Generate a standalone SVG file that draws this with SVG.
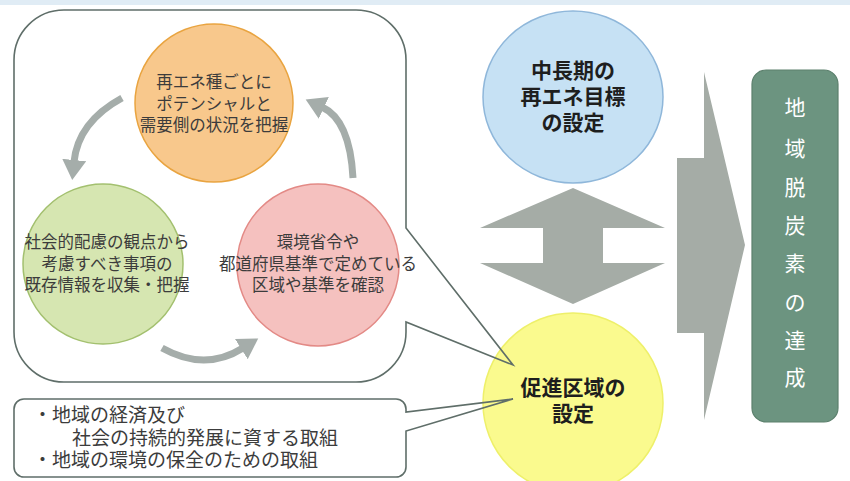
<svg xmlns="http://www.w3.org/2000/svg" width="850" height="481" viewBox="0 0 850 481">
<style>
.t{font-family:"Noto Sans CJK JP","Noto Sans",sans-serif;fill:#3c3c3c;text-anchor:middle;font-size:16.5px}
.b{font-family:"Noto Sans CJK JP","Noto Sans",sans-serif;fill:#1e1e1e;text-anchor:middle;font-size:21px;font-weight:bold}
.l{font-family:"Noto Sans CJK JP","Noto Sans",sans-serif;fill:#3c3c3c;font-size:19px}
.v{font-family:"Noto Sans CJK JP","Noto Sans",sans-serif;fill:#ffffff;text-anchor:middle;font-size:21px}
.call{fill:none;stroke:#5f6e69;stroke-width:1.6;stroke-linejoin:miter}
.cur{fill:none;stroke:#a5adaa;stroke-width:7;marker-end:url(#ah)}
.big{fill:#a5aca6}
</style>
<defs>
<marker id="ah" markerUnits="userSpaceOnUse" markerWidth="24" markerHeight="26" refX="2" refY="12" orient="auto">
<path d="M0,0 L20,12 L0,24 z" fill="#a5adaa"/>
</marker>
</defs>
<rect x="0" y="0" width="850" height="5" fill="#e0ecf5"/>
<g id="node-orange">
<circle cx="214" cy="103" r="79" fill="#f8c88c" stroke="#e9a440" stroke-width="1.5"/>
<text class="t" x="214" y="88">再エネ種ごとに</text>
<text class="t" x="214" y="109.5">ポテンシャルと</text>
<text class="t" x="214" y="131">需要側の状況を把握</text>
</g>
<g id="node-green">
<circle cx="103" cy="264" r="80" fill="#d6e6b1" stroke="#a3c06f" stroke-width="1.5"/>
<text class="t" x="107" y="248">社会的配慮の観点から</text>
<text class="t" x="107" y="270">考慮すべき事項の</text>
<text class="t" x="107" y="291">既存情報を収集・把握</text>
</g>
<g id="node-pink">
<circle cx="318" cy="265" r="81" fill="#f5c1bf" stroke="#e38a86" stroke-width="1.5"/>
<text class="t" x="318" y="248">環境省令や</text>
<text class="t" x="318" y="270">都道府県基準で定めている</text>
<text class="t" x="318" y="291">区域や基準を確認</text>
</g>
<g id="node-blue">
<ellipse cx="573" cy="97" rx="90" ry="86" fill="#c6e1f4" stroke="#8fb7da" stroke-width="1.5"/>
<text class="b" x="573" y="77.5">中長期の</text>
<text class="b" x="573" y="104">再エネ目標</text>
<text class="b" x="573" y="129.5">の設定</text>
</g>
<g id="node-yellow">
<circle cx="573" cy="403" r="90" fill="#fafa8e" stroke="#eef06a" stroke-width="1.5"/>
<text class="b" x="573" y="394.5">促進区域の</text>
<text class="b" x="573" y="420.5">設定</text>
</g>
<g id="node-goal">
<rect x="752" y="70" width="86" height="352" rx="14" fill="#6c9480" stroke="#5c806d" stroke-width="1.2"/>
<text class="v" x="795"><tspan x="795" y="114.5">地</tspan><tspan x="795" y="155.5">域</tspan><tspan x="795" y="194.5">脱</tspan><tspan x="795" y="232.5">炭</tspan><tspan x="795" y="270.5">素</tspan><tspan x="795" y="309.5">の</tspan><tspan x="795" y="347.5">達</tspan><tspan x="795" y="384.5">成</tspan></text>
</g>
<g id="callout-process">
<path class="call" d="M64,10 H356 A50,50 0 0 1 406,60 V228 L513,365 L406,322 V332 A50,50 0 0 1 356,382 H64 A50,50 0 0 1 14,332 V60 A50,50 0 0 1 64,10 Z"/>
</g>
<g id="callout-efforts">
<path class="call" d="M24,399 H396 A10,10 0 0 1 406,409 V412 L513,399 L406,431 V467 A10,10 0 0 1 396,477 H24 A10,10 0 0 1 14,467 V409 A10,10 0 0 1 24,399 Z"/>
<text class="l" x="33" y="421.5">・地域の経済及び</text>
<text class="l" x="72" y="444.5">社会の持続的発展に資する取組</text>
<text class="l" x="33" y="466.5">・地域の環境の保全のための取組</text>
</g>
<g id="connectors">
<path class="cur" d="M122,98 Q78,122 74,162"/>
<path class="cur" d="M353,178 Q350,120 322,107"/>
<path class="cur" d="M162,348 Q205,372 243,348"/>
<polygon class="big" points="573,188 665,228 603,228 603,263 665,263 573,304 480,263 543,263 543,228 480,228"/>
<polygon class="big" points="677,158 704,158 704,72 745,245 704,420 704,333 677,333"/>
</g>
</svg>
